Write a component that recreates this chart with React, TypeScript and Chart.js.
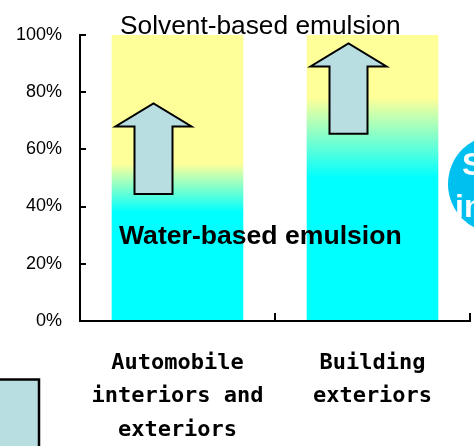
import React, { useEffect, useRef } from 'react';
import { Chart, registerables } from 'chart.js';

Chart.register(...registerables);

// ---- data ----
const categories: string[][] = [
  ['Automobile', 'interiors and', 'exteriors'],
  ['Building', 'exteriors'],
];
const shareValues = [100, 100];
// % level below which the bar is pure "water-based" cyan
const waterSolidTop = [38, 50];
// % level above which the bar is pure "solvent-based" yellow
const solventSolidBottom = [55, 78];
// upward shift arrows (in % units)
const arrowFrom = [44.4, 65.4];
const arrowTo = [76, 97];
const yTickValues = [0, 20, 40, 60, 80, 100];
const topLabel = 'Solvent-based emulsion';
const midLabel = 'Water-based emulsion';
const midLabelLevel = 27;
const sideLabelLines = ['S', 'in'];

// ---- styles ----
const CYAN = '#00FFFF';
const YELLOW = '#FFFF99';
const ARROW_FILL = '#B8DEE2';
const BUBBLE = '#00C0F0';

const overlayPlugin = {
  id: 'overlay',
  afterDatasetsDraw(chart: any) {
    const { ctx, chartArea, scales } = chart;
    const y = scales.y;
    const meta = chart.getDatasetMeta(0);
    ctx.save();
    // arrows
    const shaft = 38;
    const head = 76;
    const headH = 23;
    meta.data.forEach((bar: any, i: number) => {
      const cx = bar.x - 24;
      const yb = y.getPixelForValue(arrowFrom[i]);
      const yt = y.getPixelForValue(arrowTo[i]);
      const yh = yt + headH;
      ctx.beginPath();
      ctx.moveTo(cx - shaft / 2, yb);
      ctx.lineTo(cx - shaft / 2, yh);
      ctx.lineTo(cx - head / 2, yh);
      ctx.lineTo(cx, yt);
      ctx.lineTo(cx + head / 2, yh);
      ctx.lineTo(cx + shaft / 2, yh);
      ctx.lineTo(cx + shaft / 2, yb);
      ctx.closePath();
      ctx.fillStyle = ARROW_FILL;
      ctx.fill();
      ctx.lineWidth = 2;
      ctx.lineJoin = 'miter';
      ctx.strokeStyle = '#000';
      ctx.stroke();
    });
    // labels
    ctx.fillStyle = '#000';
    ctx.textAlign = 'left';
    ctx.textBaseline = 'alphabetic';
    ctx.font = '26.3px "Liberation Sans", Arial, sans-serif';
    ctx.fillText(topLabel, chartArea.left + 40, chartArea.top - 1);
    ctx.font = 'bold 26.6px "Liberation Sans", Arial, sans-serif';
    ctx.fillText(midLabel, chartArea.left + 39, y.getPixelForValue(midLabelLevel));
    ctx.restore();
  },
  afterDraw(chart: any) {
    const { ctx } = chart;
    ctx.save();
    // partial bubble at right edge
    ctx.beginPath();
    ctx.arc(497, 184, 49, 0, Math.PI * 2);
    ctx.fillStyle = BUBBLE;
    ctx.fill();
    ctx.fillStyle = '#fff';
    ctx.font = 'bold 32px "Liberation Sans", Arial, sans-serif';
    ctx.textAlign = 'left';
    ctx.textBaseline = 'alphabetic';
    ctx.fillText(sideLabelLines[0], 462, 175);
    ctx.fillText(sideLabelLines[1], 455, 217);
    // partial legend box at bottom-left
    ctx.beginPath();
    ctx.rect(-5, 379.5, 44, 80);
    ctx.fillStyle = ARROW_FILL;
    ctx.fill();
    ctx.lineWidth = 2.5;
    ctx.strokeStyle = '#000';
    ctx.stroke();
    ctx.restore();
  },
};

export default function App() {
  const ref = useRef<HTMLCanvasElement>(null);
  useEffect(() => {
    if (!ref.current) return;
    const chart = new Chart(ref.current, {
      type: 'bar',
      data: {
        labels: categories,
        datasets: [
          {
            data: shareValues,
            backgroundColor: (c: any) => {
              const chart = c.chart;
              const { chartArea, scales } = chart;
              if (!chartArea || c.dataIndex === undefined) return CYAN;
              const i = c.dataIndex;
              const y0 = scales.y.getPixelForValue(0);
              const y1 = scales.y.getPixelForValue(100);
              const g = chart.ctx.createLinearGradient(0, y0, 0, y1);
              g.addColorStop(0, CYAN);
              g.addColorStop(waterSolidTop[i] / 100, CYAN);
              g.addColorStop(solventSolidBottom[i] / 100, YELLOW);
              g.addColorStop(1, YELLOW);
              return g;
            },
            borderWidth: 0,
            barPercentage: 0.675,
            categoryPercentage: 1,
          },
        ],
      },
      options: {
        responsive: false,
        animation: false,
        layout: { padding: { top: 33, right: 4, left: 0, bottom: 0 } },
        plugins: { legend: { display: false }, tooltip: { enabled: false }, title: { display: false } },
        scales: {
          x: {
            offset: true,
            grid: { display: true, drawOnChartArea: false, drawTicks: true, tickLength: -8, color: '#000', lineWidth: 2, offset: true },
            border: { display: true, color: '#000', width: 2 },
            ticks: {
              color: '#000',
              padding: 33,
              maxRotation: 0,
              font: { family: '"DejaVu Sans Mono", monospace', size: 22, weight: 'bold', lineHeight: 1.53 },
            },
            afterFit: (s: any) => { s.height = 125; },
          },
          y: {
            min: 0,
            max: 100,
            afterBuildTicks: (s: any) => { s.ticks = yTickValues.map((v) => ({ value: v })); },
            grid: { display: true, drawOnChartArea: false, drawTicks: true, tickLength: -6, color: '#000', lineWidth: 2 },
            border: { display: true, color: '#000', width: 2 },
            ticks: {
              color: '#000',
              padding: 24,
              font: { family: '"Liberation Sans", Arial, sans-serif', size: 18 },
              callback: (v: any) => v + '%',
            },
            afterFit: (s: any) => { s.width = 80; },
          },
        },
      },
      plugins: [overlayPlugin],
    } as any);
    return () => chart.destroy();
  }, []);
  return (
    <div style={{ position: 'fixed', left: 0, top: 0, width: 474, height: 446, background: '#fff' }}>
      <canvas ref={ref} width={474} height={446} style={{ display: 'block' }} />
    </div>
  );
}
